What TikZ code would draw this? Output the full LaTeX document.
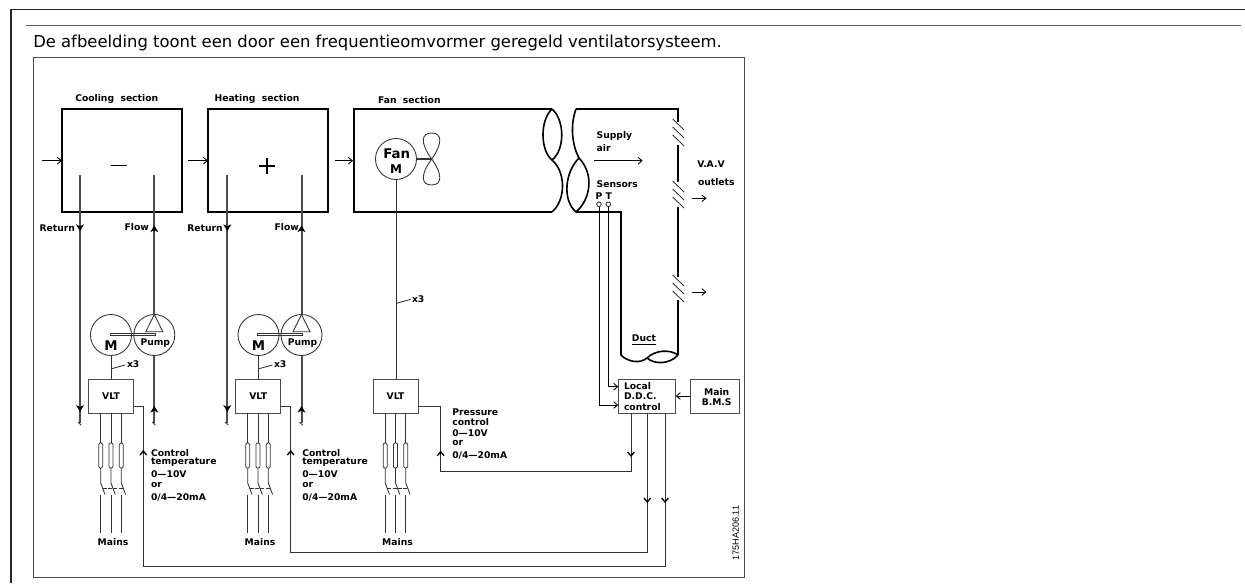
\documentclass[tikz,border=0pt]{standalone}
\usepackage{fontspec}
\setmainfont{DejaVu Sans}
\newfontfamily\capfont{DejaVu Sans}
\newfontfamily\codefont{Liberation Sans}
\usetikzlibrary{arrows.meta}
\def\u{0.75pt}
\tikzset{
  heavy/.style={line width=1.2pt,draw=black},
  mid/.style={line width=0.7pt,draw=black!70},
  fine/.style={line width=0.65pt,draw=black!80},
  pipe/.style={line width=1.5pt,draw=black!70},
  frameline/.style={line width=0.9pt,draw=black!80},
  lbl/.style={font=\fontsize{6.9}{8}\selectfont\bfseries,inner sep=0pt,outer sep=0pt},
  lbll/.style={lbl,anchor=west},
  sectionbox/.style={heavy,rectangle,inner sep=0pt,outer sep=0pt,minimum width=120*\u,minimum height=103*\u},
  vltbox/.style={mid,rectangle,inner sep=0pt,outer sep=0pt,minimum width=45*\u,minimum height=34*\u,font=\fontsize{6.9}{8}\selectfont\bfseries},
  wheel/.style={fine,circle,inner sep=0pt,outer sep=0pt,minimum size=41*\u},
  fuse/.style={fine,rectangle,rounded corners=1pt,inner sep=0pt,outer sep=0pt,minimum width=4*\u,minimum height=25*\u},
  sensor/.style={fine,circle,inner sep=0pt,outer sep=0pt,minimum size=4.6*\u},
  arr/.style={line width=0.65pt,-{Straight Barb[length=3pt,width=5pt]}},
  harr/.style={line width=0.7pt,-{Straight Barb[length=3pt,width=5pt,line width=1pt]}},
  parr/.style={line width=0.7pt,-{Stealth[length=5pt,width=6pt,inset=1.5pt]}},
}
\newcommand\hdown[2]{\draw[harr] (#1,#2-3) -- (#1,#2);}
\newcommand\hup[2]{\draw[harr] (#1,#2+3) -- (#1,#2);}
\newcommand\pdown[2]{\draw[parr] (#1,#2-4) -- (#1,#2);}
\newcommand\pup[2]{\draw[parr] (#1,#2+4) -- (#1,#2);}
\newcommand\phaseline[3]{%
  \node[fuse] (f#1) at (#2,455.5) {};
  \coordinate (sa#1) at (#2,483);
  \coordinate (sb#1) at (#2+4.3,494.5);
  \coordinate (ma#1) at (#2,495);
  \coordinate (mb#1) at (#2,533);
  \draw[fine] (#3.south -| f#1.north) -- (f#1.north);
  \draw[fine] (f#1.south) -- (sa#1) -- (sb#1);
  \draw[fine] (ma#1) -- (mb#1);
}
\newcommand\threephase[3]{% id, centre x, vlt
  \phaseline{#1a}{#2-10.3}{#3}
  \phaseline{#1b}{#2}{#3}
  \phaseline{#1c}{#2+10.3}{#3}
  \draw[fine,dash pattern=on 3pt off 1pt] (#2-8.3,488) -- (#2+12.5,488);
  \node[lbl] (mains#1) at (#2+2,542) {Mains};
}
\newcommand\hatch[1]{%
  \draw[fine] (672.7,#1-14) -- (684,#1-3);
  \draw[fine] (672.7,#1-6) -- (684,#1+5);
  \draw[fine] (672.7,#1+2) -- (684,#1+13);
}
\newcommand\pumpgroup[6]{% id, M x, Pump x, Return x, Flow x, section
  \node[wheel] (m#1) at (#2,335) {};
  \node[wheel] (p#1) at (#3,335) {};
  \node[lbl,font=\fontsize{10}{11}\selectfont\bfseries] (mt#1) at (#2,346) {M};
  \node[lbl] (pt#1) at (#3+1,343) {Pump};
  \draw[fine] (#2-1,333) rectangle (#3+1,335);
  \draw[fine] (#3,314.5) -- (#3-8.5,331.7) -- (#3+8.5,331.7) -- cycle;
  \coordinate (rt#1) at (#4,175); \coordinate (rb#1) at (#4,423);
  \coordinate (ft#1) at (#5,175); \coordinate (fb#1) at (#5,423);
  \draw[pipe] (rt#1) -- (rb#1);
  \draw[pipe] (ft#1) -- (p#1.north);
  \draw[pipe] (p#1.south) -- (fb#1);
  \draw[fine] (#4-2,422) -- (#4+1,425);
  \draw[fine] (#5-2,422) -- (#5+1,425);
  \pdown{#4}{231}\pup{#5}{225.5}
  \pdown{#4}{411.7}\pup{#5}{406}
}
\begin{document}
\begin{tikzpicture}[x=\u,y=-\u]
\useasboundingbox (0,0) rectangle (1245,583);
% page frame
\coordinate (fa) at (11,583); \coordinate (fb) at (11,9.5); \coordinate (fc) at (1245,9.5);
\draw[frameline,line width=1.1pt,draw=black!85] (fa) -- (fb) -- (fc);
\coordinate (ra) at (26,25.5); \coordinate (rb) at (1241,25.5);
\draw[frameline,line width=0.8pt,draw=black!65] (ra) -- (rb);
\node[anchor=west,inner sep=0pt,font=\capfont\fontsize{12.3}{14}\selectfont] (caption) at (33,43) {De afbeelding toont een door een frequentieomvormer geregeld ventilatorsysteem.};
% picture frame
\node[frameline,line width=0.9pt,draw=black!70,rectangle,inner sep=0pt,minimum width=711.5*\u,minimum height=520.5*\u,anchor=north west] (frame) at (32.5,56.5) {};
% section boxes
\node[sectionbox] (cool) at (122,160.5) {};
\node[sectionbox] (heat) at (268,160.5) {};
\node[lbl] (cooll) at (116.7,99) {Cooling\ \ section};
\node[lbl] (heatl) at (257,99) {Heating\ \ section};
\node[lbl] (fanl) at (409.3,100) {Fan\ \ section};
\coordinate (mi1) at (111,165.7); \coordinate (mi2) at (126.7,165.7);
\draw[line width=1.1pt] (mi1) -- (mi2);
\coordinate (pl1) at (259,166); \coordinate (pl2) at (275,166);
\coordinate (pl3) at (267,158); \coordinate (pl4) at (267,174);
\draw[line width=0.9pt] (pl1) -- (pl2) (pl3) -- (pl4);
\coordinate (in1) at (41.7,160.7);
\draw[arr] (in1) -- (cool.west |- in1);
\coordinate (in2) at (187.7,160.7);
\draw[arr] (in2) -- (heat.west |- in2);
\coordinate (in3) at (335,160.7); \coordinate (fanw) at (353,160.7);
\draw[arr] (in3) -- (fanw);
% labels pipes
\node[lbl] (ret1) at (57.3,228) {Return};
\node[lbl] (flo1) at (136.7,227) {Flow};
\node[lbl] (ret2) at (205,228) {Return};
\node[lbl] (flo2) at (286.7,227) {Flow};
% duct left part
\draw[heavy] (552,212) -- (354,212) -- (354,109) -- (552,109);
\draw[heavy] (552,109) .. controls (565,120) and (565,150) .. (552,160)
             .. controls (540,150) and (540,120) .. (552,109);
\draw[heavy] (552,160) .. controls (566,172) and (566,200) .. (552,212);
% duct right part
\draw[heavy] (576,109) .. controls (570,125) and (572,145) .. (579,158)
             .. controls (595,175) and (590,200) .. (576,212)
             .. controls (562,200) and (565,172) .. (579,158);
\draw[heavy] (576,109) -- (678,109) -- (678,122);
\draw[heavy] (678,145) -- (678,182);
\draw[heavy] (678,207) -- (678,277);
\draw[heavy] (678,300) -- (678,355);
\draw[heavy] (576,212) -- (620.7,212) -- (620.7,355);
\draw[heavy] (620.7,355) .. controls (628,362) and (640,364) .. (647,358)
             .. controls (655,350) and (670,349) .. (678,355);
\draw[heavy] (647,358) .. controls (655,365) and (670,364) .. (678,355);
\hatch{133}\hatch{195}\hatch{289}
\node[lbll] (sup) at (596.7,136) {Supply};
\node[lbll] (air) at (596.7,148) {air};
\coordinate (sa) at (594,160.7); \coordinate (sb) at (642.7,160.7);
\draw[arr] (sa) -- (sb);
\node[lbll] (sens) at (596.7,184.3) {Sensors};
\node[lbl] (ptp) at (599,196) {P};
\node[lbl] (ptt) at (608.7,196) {T};
\node[sensor] (sp) at (599,204.3) {};
\node[sensor] (st) at (608.3,204.3) {};
\node[lbll] (vav) at (697.3,164.3) {V.A.V};
\node[lbll] (out) at (698,182.3) {outlets};
\coordinate (oa) at (692,198.3); \coordinate (ob) at (706.5,198.3);
\draw[arr] (oa) -- (ob);
\coordinate (oc) at (692,292); \coordinate (od) at (706.5,292);
\draw[arr] (oc) -- (od);
\node[lbl] (duct) at (644,340) {\underline{Duct}};
% fan
\node[wheel] (fan) at (396,159) {};
\node[lbl,font=\fontsize{10}{11}\selectfont\bfseries] (fant) at (396.7,154) {Fan};
\node[lbl,font=\fontsize{9}{10}\selectfont\bfseries] (fanm) at (396,169) {M};
\coordinate (prop) at (431.7,159);
\draw[fine,line width=0.8pt] (fan.east) -- (prop);
\draw[fine] (prop) .. controls (420,143) and (421,133) .. (431.7,133) .. controls (442,133) and (443,143) .. (prop)
            .. controls (420,175) and (421,185) .. (431.7,185) .. controls (442,185) and (443,175) .. (prop);
% VLTs
\node[vltbox] (vlt1) at (111,396) {VLT};
\node[vltbox] (vlt2) at (258.2,396) {VLT};
\node[vltbox] (vlt3) at (395.5,396) {VLT};
\draw[fine] (fan.south) -- (vlt3.north -| fan.south);
\coordinate (x3a) at (396.7,303.3); \coordinate (x3b) at (410.7,299.3);
\draw[fine] (x3a) -- (x3b);
\node[lbll] (x3t) at (412,299) {x3};
\pumpgroup{1}{111}{154.3}{80}{154.3}{cool}
\pumpgroup{2}{258.5}{301.5}{227.3}{301.5}{heat}
\draw[fine] (m1.south) -- (vlt1.north -| m1.south);
\draw[fine] (m2.south) -- (vlt2.north -| m2.south);
\coordinate (x1a) at (111.7,368.7); \coordinate (x1b) at (125,365);
\draw[fine] (x1a) -- (x1b);
\node[lbll] (x1t) at (127,364) {x3};
\coordinate (x2a) at (259,368.7); \coordinate (x2b) at (272.5,365);
\draw[fine] (x2a) -- (x2b);
\node[lbll] (x2t) at (274,364) {x3};
\threephase{a}{111}{vlt1}
\threephase{b}{258}{vlt2}
\threephase{c}{395.5}{vlt3}
% control boxes
\node[vltbox,minimum width=57.4*\u] (ddc) at (647,396) {};
\node[vltbox,minimum width=49*\u] (bms) at (714.5,396) {};
\node[lbll] (ddc1) at (624,385.7) {Local};
\node[lbll] (ddc2) at (624,396) {D.D.C.};
\node[lbll] (ddc3) at (624,406.7) {control};
\node[lbl] (bms1) at (716.7,391.7) {Main};
\node[lbl] (bms2) at (716.7,402.3) {B.M.S};
\draw[arr] (bms.west) -- (ddc.east);
% sensor lines
\coordinate (spd) at (599,405); \coordinate (std) at (608.3,386.7);
\draw[arr] (sp.south) -- (spd) -- (ddc.west |- spd);
\draw[arr] (st.south) -- (std) -- (ddc.west |- std);
% control lines
\coordinate (c1a) at (133.5,406); \coordinate (c1b) at (143.3,406); \coordinate (c1c) at (143.3,566); \coordinate (c1d) at (665,566);
\draw[fine] (c1a) -- (c1b) -- (c1c) -- (c1d) -- (ddc.south -| c1d);
\coordinate (c2a) at (280.7,406); \coordinate (c2b) at (290.7,406); \coordinate (c2c) at (290.7,552.3); \coordinate (c2d) at (647.3,552.3);
\draw[fine] (c2a) -- (c2b) -- (c2c) -- (c2d) -- (ddc.south -| c2d);
\coordinate (c3a) at (418,406); \coordinate (c3b) at (440.7,406); \coordinate (c3c) at (440.7,471.7); \coordinate (c3d) at (631,471.7);
\draw[fine] (c3a) -- (c3b) -- (c3c) -- (c3d) -- (ddc.south -| c3d);
\hup{143.3}{450}\hup{290.7}{450}\hup{440.7}{450.7}
\hdown{631}{457}\hdown{647.3}{503}\hdown{665}{503}
% control labels
\node[lbll] (t1a) at (151,453.3) {Control};
\node[lbll] (t1b) at (151,462.7) {temperature};
\node[lbll] (t1c) at (151,474) {0---10V};
\node[lbll] (t1d) at (151,485) {or};
\node[lbll] (t1e) at (151,497.3) {0/4---20mA};
\node[lbll] (t2a) at (302.3,453.3) {Control};
\node[lbll] (t2b) at (302.3,462.7) {temperature};
\node[lbll] (t2c) at (302.3,474) {0---10V};
\node[lbll] (t2d) at (302.3,485) {or};
\node[lbll] (t2e) at (302.3,497.3) {0/4---20mA};
\node[lbll] (t3a) at (452.3,412.3) {Pressure};
\node[lbll] (t3b) at (452.3,421.7) {control};
\node[lbll] (t3c) at (452.3,432.7) {0---10V};
\node[lbll] (t3d) at (452.3,443) {or};
\node[lbll] (t3e) at (452.3,456) {0/4---20mA};
\node[rotate=90,inner sep=0pt,font=\codefont\fontsize{6.8}{8}\selectfont] (code) at (735.7,533) {175HA206.11};
\end{tikzpicture}
\end{document}
